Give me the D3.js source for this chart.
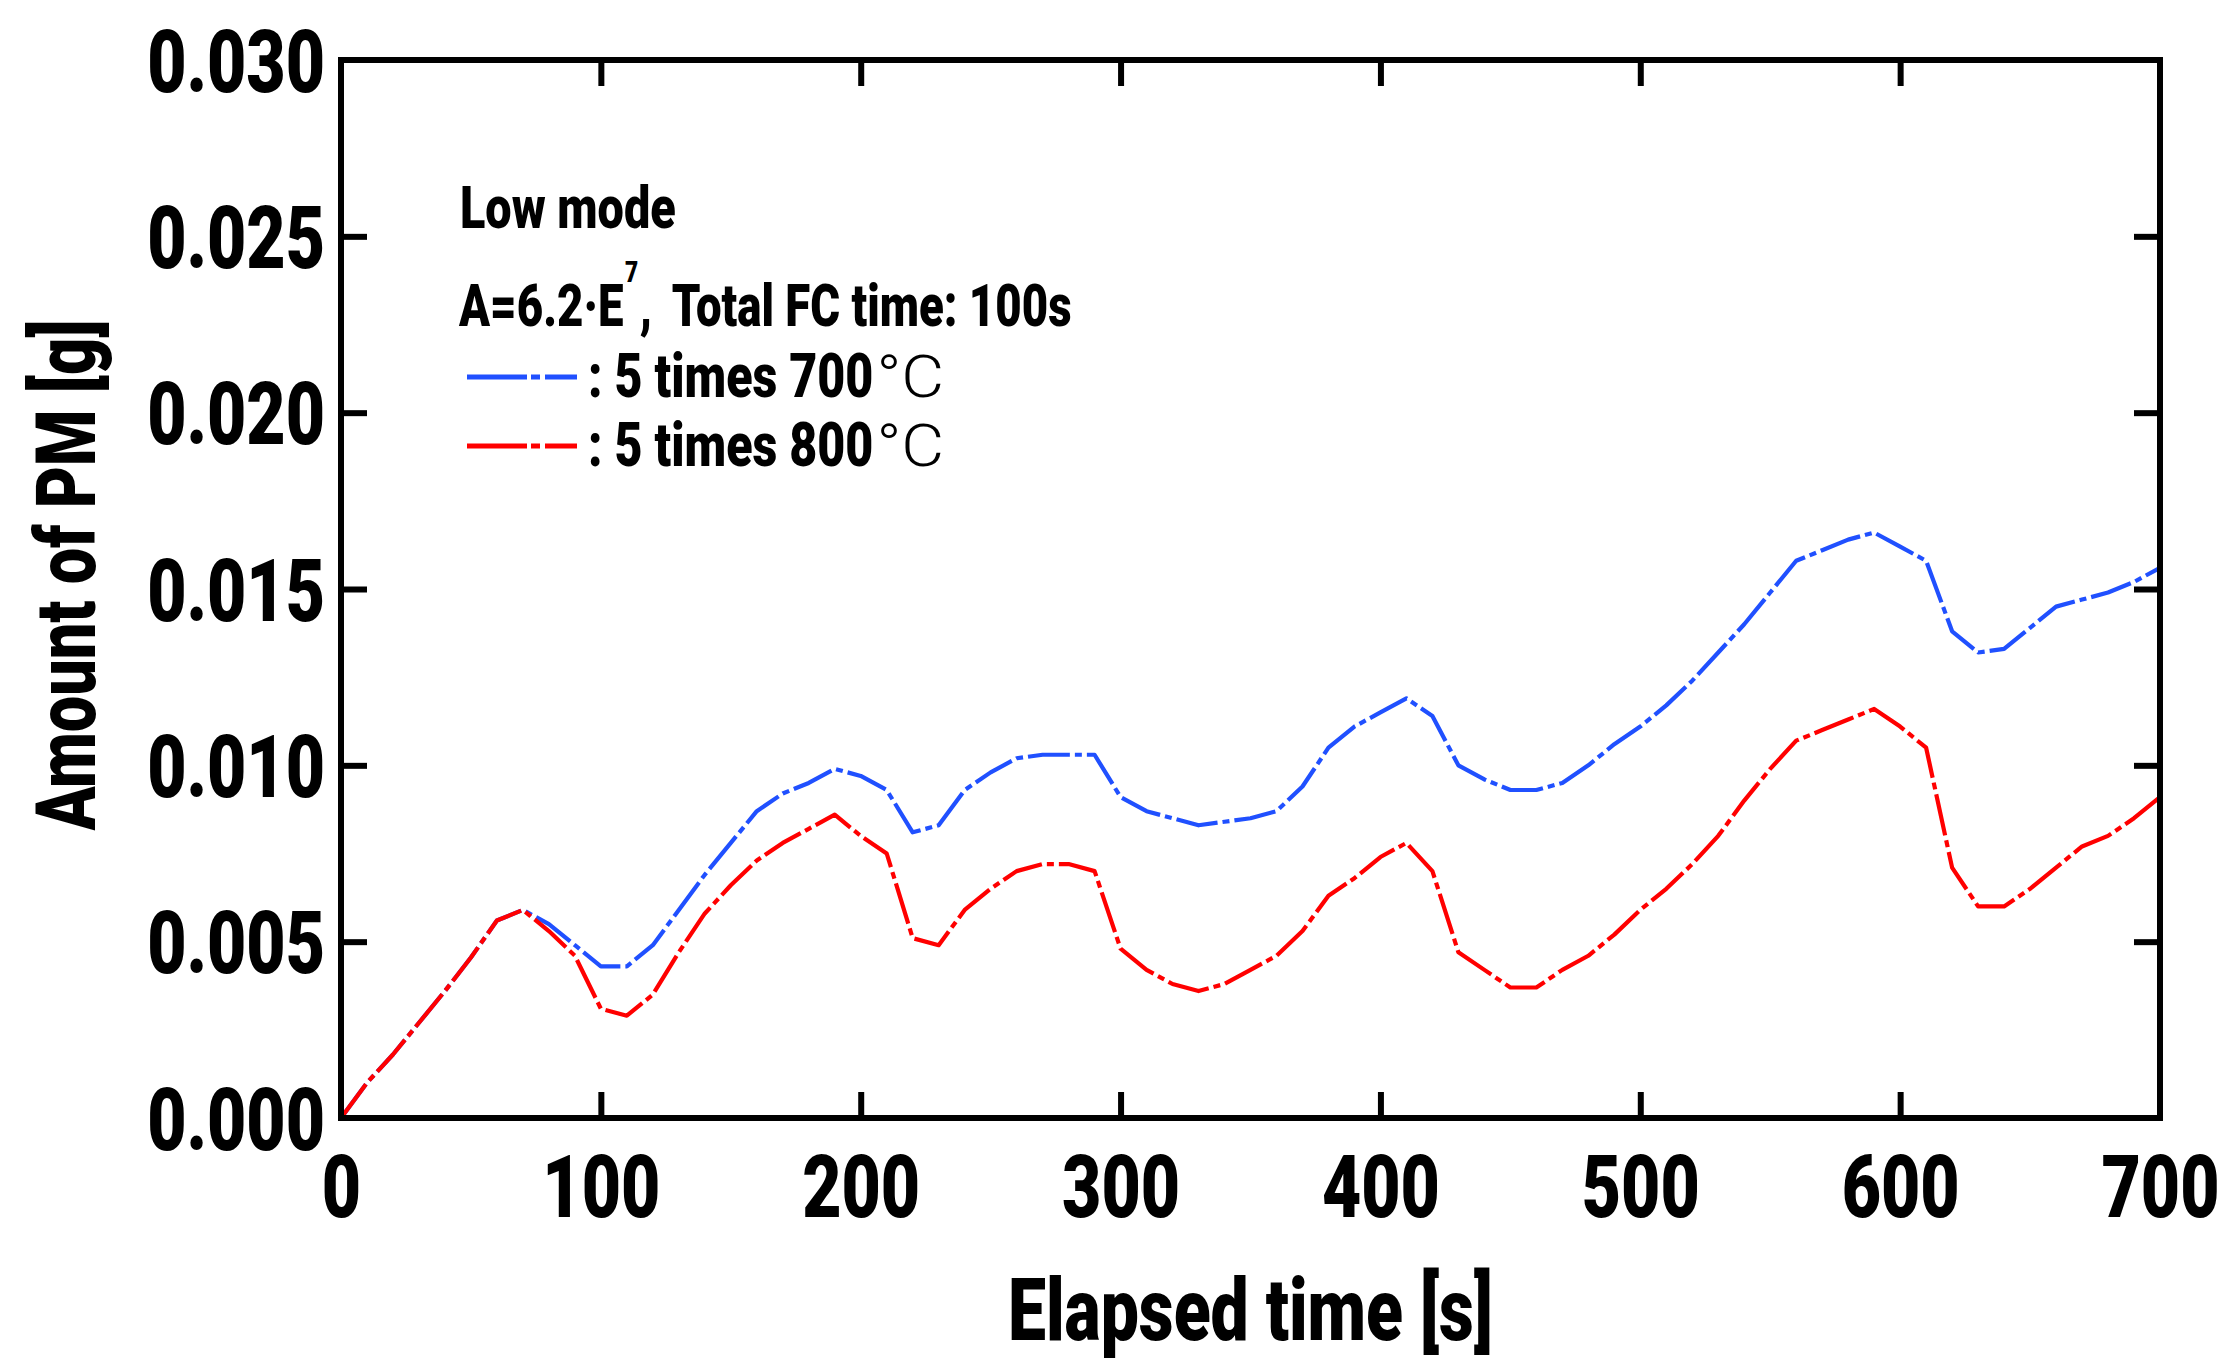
<!DOCTYPE html>
<html>
<head>
<meta charset="utf-8">
<script src="https://cdn.jsdelivr.net/npm/d3@7"></script>
<style>
  html, body { margin: 0; padding: 0; background: #fff; }
  svg { display: block; }
  .heavy { font-family: Roboto, "Liberation Sans", sans-serif; font-weight: 900; fill: #000; }
  .thin { font-family: Roboto, "Liberation Sans", sans-serif; font-weight: 300; fill: #000; }
</style>
</head>
<body>
<div id="chart"></div>
<script>
// elapsed time [s], read every 10 s off the figure
const timeSec = [0, 10, 20, 30, 40, 50, 60, 70, 80, 90,
    100, 110, 120, 130, 140, 150, 160, 170, 180, 190,
    200, 210, 220, 230, 240, 250, 260, 270, 280, 290,
    300, 310, 320, 330, 340, 350, 360, 370, 380, 390,
    400, 410, 420, 430, 440, 450, 460, 470, 480, 490,
    500, 510, 520, 530, 540, 550, 560, 570, 580, 590,
    600, 610, 620, 630, 640, 650, 660, 670, 680, 690, 700];

// 5 times 700 C (blue)
const pm700 = [0, 0.0010, 0.0018, 0.0027, 0.0036, 0.00455, 0.0056, 0.0059, 0.0055, 0.0049,
    0.0043, 0.0043, 0.0049, 0.0059, 0.0069, 0.0078, 0.0087, 0.0092, 0.0095, 0.0099,
    0.0097, 0.0093, 0.0081, 0.0083, 0.0093, 0.0098, 0.0102, 0.0103, 0.0103, 0.0103,
    0.0091, 0.0087, 0.0085, 0.0083, 0.0084, 0.0085, 0.0087, 0.0094, 0.0105, 0.0111,
    0.0115, 0.0119, 0.0114, 0.0100, 0.0096, 0.0093, 0.0093, 0.0095, 0.0100, 0.0106,
    0.0111, 0.0117, 0.0124, 0.0132, 0.0140, 0.0149, 0.0158, 0.0161, 0.0164, 0.0166,
    0.0162, 0.0158, 0.0138, 0.0132, 0.0133, 0.0139, 0.0145, 0.0147, 0.0149, 0.0152, 0.0156];

// 5 times 800 C (red)
const pm800 = [0, 0.0010, 0.0018, 0.0027, 0.0036, 0.00455, 0.0056, 0.0059, 0.0053, 0.0046,
    0.0031, 0.0029, 0.0035, 0.0047, 0.0058, 0.0066, 0.0073, 0.0078, 0.0082, 0.0086,
    0.0080, 0.0075, 0.0051, 0.0049, 0.0059, 0.0065, 0.0070, 0.0072, 0.0072, 0.0070,
    0.0048, 0.0042, 0.0038, 0.0036, 0.0038, 0.0042, 0.0046, 0.0053, 0.0063, 0.0068,
    0.0074, 0.0078, 0.0070, 0.0047, 0.0042, 0.0037, 0.0037, 0.0042, 0.0046, 0.0052,
    0.0059, 0.0065, 0.0072, 0.0080, 0.0090, 0.0099, 0.0107, 0.0110, 0.0113, 0.0116,
    0.0111, 0.0105, 0.0071, 0.0060, 0.0060, 0.0065, 0.0071, 0.0077, 0.0080, 0.0085, 0.0091];

const xTicks = [0, 100, 200, 300, 400, 500, 600, 700];
const yTicks = [0, 0.005, 0.010, 0.015, 0.020, 0.025, 0.030];
const seriesNames = [": 5 times 700", ": 5 times 800"];
const seriesColors = ["#2050ff", "#ff0000"];

const W = 2233, H = 1371;
const margin = { left: 341, top: 60, right: 73, bottom: 253 };
const pw = W - margin.left - margin.right;
const ph = H - margin.top - margin.bottom;
const squeeze = 0.78;
const tickLen = 26;

const svg = d3.select("#chart").append("svg")
    .attr("width", W)
    .attr("height", H);

const g = svg.append("g")
    .attr("transform", `translate(${margin.left},${margin.top})`);

const x = d3.scaleLinear().domain([0, 700]).range([0, pw]);
const y = d3.scaleLinear().domain([0, 0.030]).range([ph, 0]);

// data lines (blue under red, as in the figure)
const line = d3.line()
    .x((d, i) => x(timeSec[i]))
    .y(d => y(d));

[pm700, pm800].forEach((s, i) => {
    g.append("path")
        .datum(s)
        .attr("d", line)
        .attr("fill", "none")
        .attr("stroke", seriesColors[i])
        .attr("stroke-width", 4.2)
        .attr("stroke-linejoin", "round")
        .attr("stroke-dasharray", "42,5,7,5");
});

// axes with inward ticks on all four sides
function styleAxis(sel) {
    sel.select(".domain").remove();
    sel.selectAll(".tick line")
        .attr("stroke", "#000")
        .attr("stroke-width", 6);
}

const xAxis = g.append("g")
    .attr("transform", `translate(0,${ph})`)
    .call(d3.axisBottom(x).tickValues(xTicks).tickSizeInner(-tickLen).tickSizeOuter(0)
        .tickPadding(37).tickFormat(d3.format("d")))
    .call(styleAxis);

xAxis.selectAll(".tick text")
    .attr("class", "heavy")
    .attr("font-size", 87)
    .attr("dy", "0.71em")
    .attr("transform", `scale(${squeeze},1)`);

const yAxis = g.append("g")
    .call(d3.axisLeft(y).tickValues(yTicks).tickSizeInner(-tickLen).tickSizeOuter(0)
        .tickFormat(d3.format(".3f")))
    .call(styleAxis);

yAxis.selectAll(".tick text")
    .attr("class", "heavy")
    .attr("font-size", 87)
    .attr("x", -16 / squeeze)
    .attr("dy", "0.36em")
    .attr("transform", `scale(${squeeze},1)`);

g.append("g")
    .call(d3.axisTop(x).tickValues(xTicks).tickSizeInner(-tickLen).tickSizeOuter(0).tickFormat(""))
    .call(styleAxis);

g.append("g")
    .attr("transform", `translate(${pw},0)`)
    .call(d3.axisRight(y).tickValues(yTicks).tickSizeInner(-tickLen).tickSizeOuter(0).tickFormat(""))
    .call(styleAxis);

// end ticks sit on the frame corners
g.selectAll(".tick line")
    .filter(d => d === 0 || d === 700 || d === 0.030)
    .remove();

g.append("rect")
    .attr("width", pw)
    .attr("height", ph)
    .attr("fill", "none")
    .attr("stroke", "#000")
    .attr("stroke-width", 6);

// axis titles
svg.append("text")
    .attr("class", "heavy")
    .attr("font-size", 87)
    .attr("text-anchor", "middle")
    .attr("transform", `translate(${margin.left + pw / 2},1340) scale(${squeeze},1)`)
    .text("Elapsed time [s]");

svg.append("text")
    .attr("class", "heavy")
    .attr("font-size", 83)
    .attr("text-anchor", "middle")
    .attr("transform", `translate(95,575) rotate(-90) scale(${squeeze},1)`)
    .text("Amount of PM [g]");

// legend block
const legend = svg.append("g");

function heavyText(parent, tx, ty, size, str, k) {
    return parent.append("text")
        .attr("class", "heavy")
        .attr("font-size", size)
        .attr("transform", `translate(${tx},${ty}) scale(${k},1)`)
        .text(str);
}

heavyText(legend, 460, 228, 60, "Low mode", squeeze);

// A=6.2·E^7,  Total FC time: 100s  (one text, superscript as tspan)
const aLine = heavyText(legend, 459, 326, 60, "A=6.2·E", 0.76);
aLine.append("tspan").attr("font-size", 30).attr("dx", 2).attr("dy", -44).text("7");
aLine.append("tspan").attr("dx", 2).attr("dy", 44).text(",");
aLine.append("tspan").attr("dx", 26).text("Total FC time: 100s");

seriesNames.forEach((name, i) => {
    const ly = 377 + i * 69;
    legend.append("line")
        .attr("x1", 467).attr("x2", 577)
        .attr("y1", ly).attr("y2", ly)
        .attr("stroke", seriesColors[i])
        .attr("stroke-width", 5)
        .attr("stroke-dasharray", "60,4,9,5");
    const t = heavyText(legend, 588, ly + 20, 62, name, squeeze);
    const endX = 588 + t.node().getComputedTextLength() * squeeze;
    legend.append("text")
        .attr("class", "thin")
        .attr("font-size", 60)
        .attr("transform", `translate(${endX + 3},${ly + 20}) scale(1.1,1)`)
        .text("°C");
});
</script>
</body>
</html>
